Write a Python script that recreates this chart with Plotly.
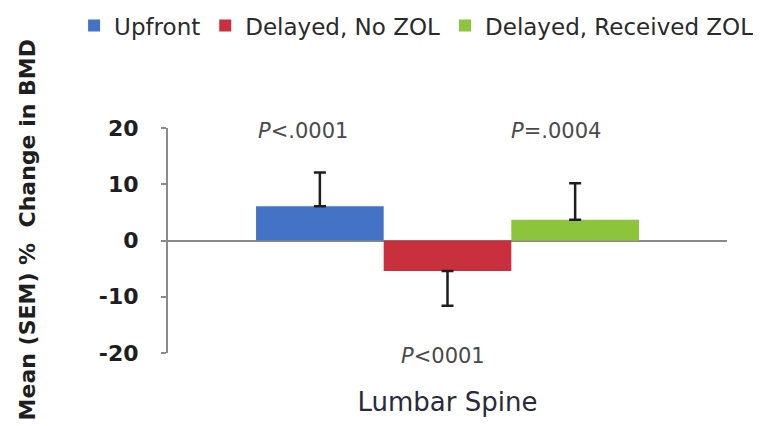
import plotly.graph_objects as go

# Lumbar spine BMD change by treatment arm
category = ["Lumbar Spine"]
groups = ["Upfront", "Delayed, No ZOL", "Delayed, Received ZOL"]
means = [6.1, -5.4, 3.7]
sem_up = [6.0, 0.0, 6.5]
sem_down = [0.0, 6.2, 0.0]
colors = ["#4472c4", "#c8303d", "#8cc43c"]
y_ticks = [-20, -10, 0, 10, 20]
y_ticktext = ["-20", "-10", "0", "10", "20"]
p_labels = ["<i>P</i>&lt;.0001", "<i>P</i>&lt;0001", "<i>P</i>=.0004"]

# where the p-value notes sit (paper coords)
p_pos = [(0.2415, 0.986), (0.492, -0.012), (0.694, 0.986)]

_AXIS = "#8a8a8a"
_FONT = "DejaVu Sans"

fig = go.Figure()
for name, m, up, dn, c in zip(groups, means, sem_up, sem_down, colors):
    fig.add_trace(
        go.Bar(
            x=category,
            y=[m],
            name=name,
            marker={"color": c, "line": {"width": 0}},
            error_y={
                "type": "data",
                "symmetric": False,
                "array": [up],
                "arrayminus": [dn],
                "color": "#1e1e1e",
                "thickness": 2.5,
                "width": 6,
            },
        )
    )

for txt, (x, y) in zip(p_labels, p_pos):
    fig.add_annotation(
        text=txt, x=x, xref="paper", xanchor="center",
        y=y, yref="paper", yanchor="middle", showarrow=False,
        font={"family": _FONT, "size": 21, "color": "#4a4a4a"},
    )

# y axis title, placed by hand so it sits at the far left like the original
fig.add_annotation(
    text="<b>Mean (SEM) %  Change in BMD</b>",
    x=-0.251, xref="paper", xanchor="center",
    y=0.548, yref="paper", yanchor="middle",
    textangle=-90, showarrow=False,
    font={"family": _FONT, "size": 22, "color": "#1e1e1e"},
)

# page body has an 8px margin, so the figure is 8px smaller than the window
fig.update_layout(
    width=753,
    height=418,
    paper_bgcolor="white",
    plot_bgcolor="white",
    barmode="group",
    bargap=0.315,
    bargroupgap=0,
    margin={"t": 120, "b": 73, "l": 160, "r": 34, "autoexpand": False},
    font={"family": _FONT, "color": "#2a2a2a"},
    showlegend=True,
    legend={
        "orientation": "h",
        "x": -0.168,
        "xanchor": "left",
        "y": 1.455,
        "yanchor": "middle",
        "font": {"size": 23, "color": "#2a2a2a"},
        "itemwidth": 30,
        "bgcolor": "rgba(0,0,0,0)",
    },
    xaxis={
        "showline": False,
        "showgrid": False,
        "ticks": "",
        "automargin": False,
        "tickfont": {"size": 26, "color": "#2a2a3a"},
        "ticklabelstandoff": 31,
    },
    yaxis={
        "range": [-20, 20],
        "tickvals": y_ticks,
        "ticktext": y_ticktext,
        "showgrid": False,
        "showline": True,
        "automargin": False,
        "linecolor": _AXIS,
        "linewidth": 2,
        "ticks": "outside",
        "ticklen": 5,
        "tickwidth": 1.5,
        "tickcolor": _AXIS,
        "ticklabelstandoff": 18,
        "tickfont": {"size": 22, "color": "#1e1e1e", "family": _FONT, "weight": "bold"},
        "zeroline": True,
        "zerolinecolor": _AXIS,
        "zerolinewidth": 2,
    },
)

fig.write_html("out.html")
